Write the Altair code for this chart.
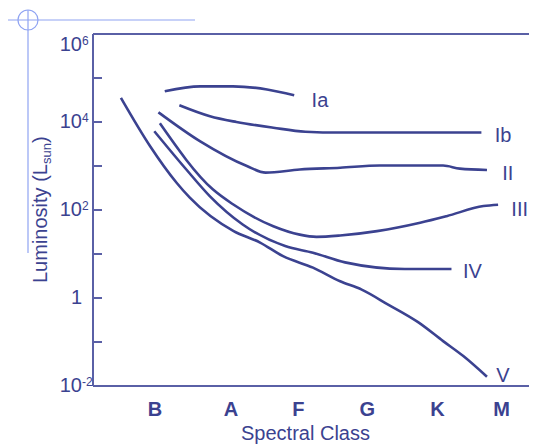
import altair as alt
import pandas as pd

INK = "#3b4290"
AXIS = "#5a60a6"
REG = "#8fa3f2"
FONT = "Liberation Sans"

# spectral classes and their positions along the x axis
classes = ["B", "A", "F", "G", "K", "M"]
class_pos = [1.0, 2.09, 3.06, 4.05, 5.06, 5.98]

# luminosity classes: x = spectral position, y = log10(L / Lsun)
ia_x = [1.14, 1.65, 2.12, 2.61, 3.00]
ia_y = [4.70, 4.81, 4.81, 4.74, 4.61]
ib_x = [1.35, 1.79, 2.17, 2.70, 3.16, 3.66, 5.69]
ib_y = [4.38, 4.13, 4.00, 3.87, 3.78, 3.76, 3.76]
ii_x = [1.05, 1.65, 2.32, 2.59, 3.08, 3.66, 4.23, 5.14, 5.38, 5.77]
ii_y = [4.22, 3.56, 3.00, 2.85, 2.92, 2.96, 3.01, 3.01, 2.94, 2.91]
iii_x = [1.07, 1.83, 2.12, 2.70, 3.08, 3.32, 3.66, 4.19, 4.81, 5.19, 5.72, 5.93]
iii_y = [3.97, 2.47, 2.13, 1.63, 1.44, 1.39, 1.42, 1.52, 1.71, 1.86, 2.09, 2.12]
iv_x = [0.99, 1.45, 1.79, 2.26, 2.87, 3.27, 3.73, 4.59, 5.26]
iv_y = [3.79, 2.92, 2.31, 1.67, 1.18, 1.03, 0.81, 0.66, 0.66]
v_x = [0.51, 0.93, 1.31, 1.50, 2.13, 2.51, 2.84, 3.27, 3.66, 3.97, 4.35, 4.78, 5.14, 5.43, 5.77]
v_y = [4.55, 3.45, 2.62, 2.28, 1.52, 1.26, 0.95, 0.69, 0.38, 0.19, -0.15, -0.55, -0.98, -1.32, -1.79]

# curve labels
lab_names = ["Ia", "Ib", "II", "III", "IV", "V"]
lab_x = [3.37, 6.00, 6.07, 6.24, 5.56, 6.00]
lab_y = [4.47, 3.69, 2.81, 2.01, 0.58, -1.78]

# y tick labels (powers of ten)
ylab_exp = [6, 4, 2, 0, -2]
ylab_base = ["10", "10", "10", "1", "10"]
ylab_sup = ["6", "4", "2", "", "-2"]
tick_exp = [6, 5, 4, 3, 2, 1, 0, -1, -2]

W, H = 436, 352
xs = alt.Scale(domain=[0.109, 6.374], nice=False, zero=False)
ys = alt.Scale(domain=[-2, 6], nice=False, zero=False)

rows = []
for name, sx, sy in [("Ia", ia_x, ia_y), ("Ib", ib_x, ib_y), ("II", ii_x, ii_y),
                     ("III", iii_x, iii_y), ("IV", iv_x, iv_y), ("V", v_x, v_y)]:
    for i, (a, b) in enumerate(zip(sx, sy)):
        rows.append({"series": name, "cls": a, "logL": b, "i": i})
curves = pd.DataFrame(rows)

labs = pd.DataFrame({"name": lab_names, "cls": lab_x, "logL": lab_y})
ylabs = pd.DataFrame({"e": ylab_exp, "base": ylab_base, "sup": ylab_sup})
ticks = pd.DataFrame({"e": tick_exp})
xlabs = pd.DataFrame({"cls": classes, "pos": class_pos})
one = pd.DataFrame({"a": [0]})
ext = pd.DataFrame({"lo": [-2], "hi": [6]})

lines = alt.Chart(curves).mark_line(color=INK, strokeWidth=2.6, interpolate="monotone").encode(
    x=alt.X("cls:Q", scale=xs, axis=None),
    y=alt.Y("logL:Q", scale=ys, axis=None),
    detail="series:N",
    order="i:Q",
)

# frame: left axis, bottom axis, top border
left_axis = alt.Chart(ext).mark_rule(color=AXIS, strokeWidth=2).encode(
    y=alt.Y("lo:Q", scale=ys, axis=None), y2="hi:Q", x=alt.value(0)
)
bottom_axis = alt.Chart(ext).mark_rule(color=AXIS, strokeWidth=2).encode(
    y=alt.Y("lo:Q", scale=ys, axis=None), x=alt.value(0), x2=alt.value(W)
)
top_border = alt.Chart(ext).mark_rule(color=AXIS, strokeWidth=2).encode(
    y=alt.Y("hi:Q", scale=ys, axis=None), x=alt.value(0), x2=alt.value(W)
)

tick_rules = alt.Chart(ticks).mark_rule(color=AXIS, strokeWidth=2).encode(
    y=alt.Y("e:Q", scale=ys, axis=None), x=alt.value(0), x2=alt.value(9)
)

ybase = alt.Chart(ylabs)
base_main = ybase.transform_filter("datum.e < 6").mark_text(
    align="right", baseline="middle", font=FONT, fontSize=20, color=INK
).encode(y=alt.Y("e:Q", scale=ys, axis=None), x=alt.value(-11), text="base:N")
sup_main = ybase.transform_filter("datum.e < 6").mark_text(
    align="left", baseline="middle", font=FONT, fontSize=12, color=INK, dy=-4.5
).encode(y=alt.Y("e:Q", scale=ys, axis=None), x=alt.value(-11), text="sup:N")
base_top = ybase.transform_filter("datum.e >= 6").mark_text(
    align="right", baseline="middle", font=FONT, fontSize=20, color=INK, dy=11
).encode(y=alt.Y("e:Q", scale=ys, axis=None), x=alt.value(-11), text="base:N")
sup_top = ybase.transform_filter("datum.e >= 6").mark_text(
    align="left", baseline="middle", font=FONT, fontSize=12, color=INK, dy=6.5
).encode(y=alt.Y("e:Q", scale=ys, axis=None), x=alt.value(-11), text="sup:N")

xlab_text = alt.Chart(xlabs).mark_text(
    font=FONT, fontSize=20, fontWeight="bold", color=INK, baseline="alphabetic", align="center"
).encode(x=alt.X("pos:Q", scale=xs, axis=None), y=alt.value(382), text="cls:N")

xtitle = alt.Chart(pd.DataFrame({"t": ["Spectral Class"]})).mark_text(
    font=FONT, fontSize=20, color=INK, baseline="alphabetic", align="center"
).encode(x=alt.value(212.5), y=alt.value(406), text="t:N")

yt1 = alt.Chart(pd.DataFrame({"t": ["Luminosity (L"]})).mark_text(
    font=FONT, fontSize=20, color=INK, baseline="alphabetic", align="left", angle=270
).encode(x=alt.value(-46), y=alt.value(249), text="t:N")
yt2 = alt.Chart(pd.DataFrame({"t": ["sun"]})).mark_text(
    font=FONT, fontSize=13, color=INK, baseline="alphabetic", align="left", angle=270
).encode(x=alt.value(-42), y=alt.value(130), text="t:N")
yt3 = alt.Chart(pd.DataFrame({"t": [")"]})).mark_text(
    font=FONT, fontSize=20, color=INK, baseline="alphabetic", align="left", angle=270
).encode(x=alt.value(-46), y=alt.value(109), text="t:N")

curve_labels = alt.Chart(labs).mark_text(
    font=FONT, fontSize=20, color=INK, align="center", baseline="middle"
).encode(x=alt.X("cls:Q", scale=xs, axis=None), y=alt.Y("logL:Q", scale=ys, axis=None), text="name:N")

reg_h = alt.Chart(one).mark_rule(color=REG, strokeWidth=1.2).encode(
    x=alt.value(-86), x2=alt.value(102), y=alt.value(-14))
reg_v = alt.Chart(one).mark_rule(color=REG, strokeWidth=1.2).encode(
    x=alt.value(-65), y=alt.value(-24), y2=alt.value(219))
reg_c = alt.Chart(one).mark_point(shape="circle", filled=False, size=400, color=REG,
                                  strokeWidth=1.2, opacity=1).encode(
    x=alt.value(-65), y=alt.value(-14))

chart = alt.layer(
    reg_h, reg_v, reg_c,
    left_axis, bottom_axis, top_border, tick_rules,
    lines,
    base_main, sup_main, base_top, sup_top,
    xlab_text, xtitle, yt1, yt2, yt3, curve_labels,
).properties(
    width=W, height=H,
    padding={"left": 85, "top": 26, "right": 0, "bottom": 60},
    autosize=alt.AutoSizeParams(type="none"),
).configure_view(stroke=None)

chart.save("out.html", embed_options={"renderer": "svg", "actions": False})
